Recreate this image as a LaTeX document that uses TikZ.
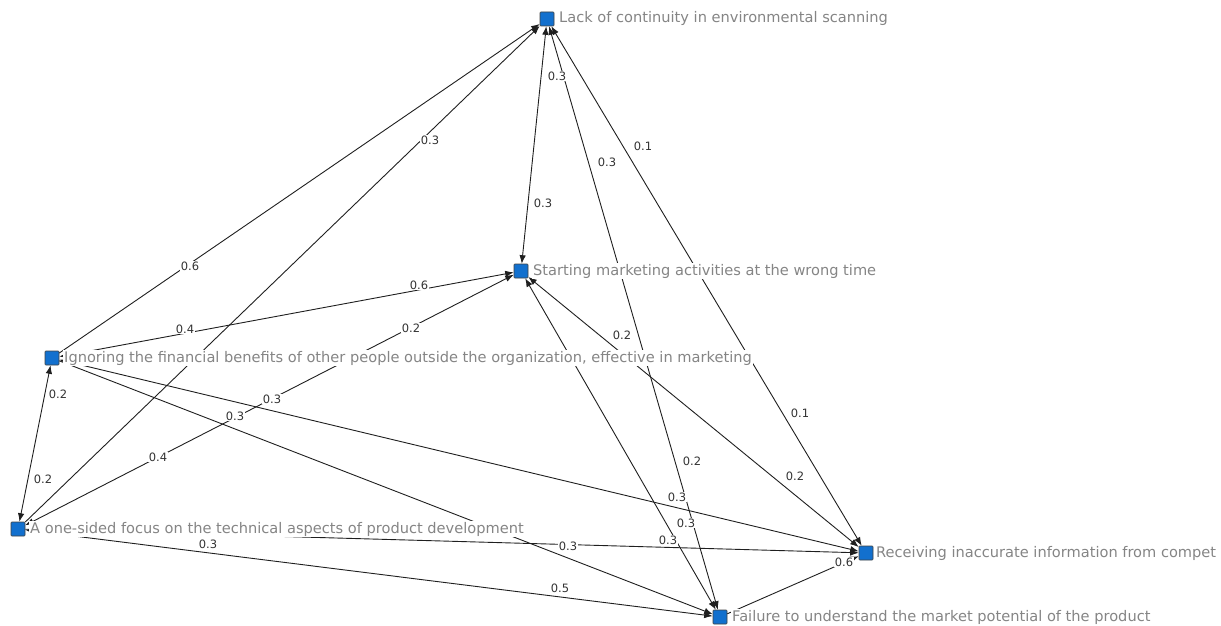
\documentclass[tikz,border=0pt]{standalone}
\usepackage{fontspec}
\setmainfont{DejaVu Sans}
\usetikzlibrary{arrows.meta}
\definecolor{sqblue}{RGB}{18,112,206}
\begin{document}
\begin{tikzpicture}[x=1pt,y=-1pt,
  sq/.style={draw=black!75, fill=sqblue, minimum size=14pt, inner sep=0pt, line width=0.6pt, rounded corners=0.8pt},
  txt/.style={anchor=west, fill=white, inner sep=1pt, text height=11pt, text depth=3pt, text=black!48, font=\fontsize{14.6}{16}\selectfont},
  lab/.style={fill=white, inner sep=0.6pt, text=black!80, font=\fontsize{11.5}{13}\selectfont},
  link/.style={draw=black!88, line width=0.9pt, -{Latex[length=8.5pt,width=6.5pt]}},
  bilink/.style={draw=black!88, line width=0.9pt, {Latex[length=8.5pt,width=6.5pt]}-{Latex[length=8.5pt,width=6.5pt]}},
]
\useasboundingbox (0,0) rectangle (1221,626);
\clip (0,0) rectangle (1221,626);

% squares
\node[sq] (L) at (547,19) {};
\node[sq] (S) at (521,271) {};
\node[sq] (I) at (52,358) {};
\node[sq] (A) at (18,529) {};
\node[sq] (R) at (866,553) {};
\node[sq] (F) at (720,617) {};

% connectors
\draw[link] (I) -- (L);
\draw[link] (A) -- (L);
\draw[bilink] (L) -- (S);
\draw[bilink] (L) -- (R);
\draw[bilink] (L) -- (F);
\draw[bilink] (I) -- (S);
\draw[bilink] (A) -- (S);
\draw[bilink] (S) -- (R);
\draw[bilink] (S) -- (F);
\draw[bilink] (I) -- (A);
\draw[bilink] (I) -- (R);
\draw[link] (I) -- (F);
\draw[link] (A) -- (R);
\draw[bilink] (A) -- (F);
\draw[link] (F) -- (R);

% connector labels
\node[lab] (w1) at (557,76) {0.3};
\node[lab] (w2) at (543,203) {0.3};
\node[lab] (w3) at (430,140) {0.3};
\node[lab] (w4) at (643,146) {0.1};
\node[lab] (w5) at (800,413) {0.1};
\node[lab] (w6) at (607,162) {0.3};
\node[lab] (w7) at (692,461) {0.2};
\node[lab] (w8) at (686,523) {0.3};
\node[lab] (w9) at (190,266) {0.6};
\node[lab] (w10) at (185,329) {0.4};
\node[lab] (w11) at (419,285) {0.6};
\node[lab] (w12) at (158,457) {0.4};
\node[lab] (w13) at (411,328) {0.2};
\node[lab] (w14) at (622,335) {0.2};
\node[lab] (w15) at (795,476) {0.2};
\node[lab] (w16) at (58,394) {0.2};
\node[lab] (w17) at (43,479) {0.2};
\node[lab] (w18) at (272,399) {0.3};
\node[lab] (w19) at (677,497) {0.3};
\node[lab] (w20) at (235,416) {0.3};
\node[lab] (w21) at (568,546) {0.3};
\node[lab] (w22) at (668,540) {0.3};
\node[lab] (w23) at (208,544) {0.3};
\node[lab] (w24) at (560,588) {0.5};
\node[lab] (w25) at (844,562) {0.6};

% node texts
\node[txt] (tL) at (558,19) {Lack of continuity in environmental scanning};
\node[txt] (tS) at (532,271) {Starting marketing activities at the wrong time};
\node[txt] (tI) at (63,358) {Ignoring the financial benefits of other people outside the organization, effective in marketing};
\node[txt] (tA) at (29,529) {A one-sided focus on the technical aspects of product development};
\node[txt] (tR) at (875,553) {Receiving inaccurate information from compet};
\node[txt] (tF) at (731,617) {Failure to understand the market potential of the product};
\end{tikzpicture}
\end{document}
